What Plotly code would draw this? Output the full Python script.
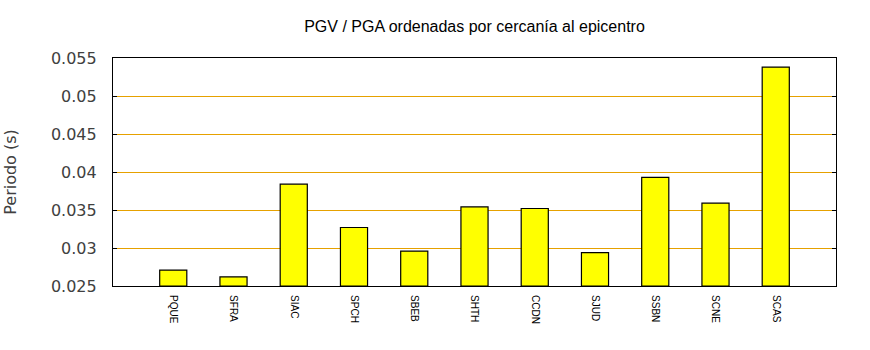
import plotly.graph_objects as go

# Stations ordered by distance to the epicentre
stations = ["PQUE", "SFRA", "SIAC", "SPCH", "SBEB", "SHTH",
            "CCDN", "SJUD", "SSBN", "SCNE", "SCAS"]
# PGV / PGA ratio per station (s)
periods = [0.0271, 0.0262, 0.0384, 0.0327, 0.0296, 0.0354,
           0.0352, 0.0294, 0.0393, 0.0359, 0.0538]

y_ticks = [0.025, 0.03, 0.035, 0.04, 0.045, 0.05, 0.055]
y_tick_text = ["0.025", "0.03", "0.035", "0.04", "0.045", "0.05", "0.055"]

fig = go.Figure()
fig.add_trace(go.Bar(
    x=list(range(len(stations))),
    y=[p - 0.025 for p in periods],
    base=0.025,
    width=0.45,
    marker=dict(color="#FFFF00", line=dict(color="#000000", width=1.2)),
    hoverinfo="skip",
))

fig.update_layout(
    width=870, height=350,
    margin=dict(l=113, r=34, t=58, b=64),
    paper_bgcolor="white", plot_bgcolor="white",
    showlegend=False,
    title=dict(
        text="PGV / PGA ordenadas por cercanía al epicentro",
        x=0.5, xref="paper", xanchor="center",
        y=1 - 26 / 350, yref="container", yanchor="middle",
        font=dict(family="Liberation Sans, Arial", size=16, color="#000000"),
    ),
)

fig.update_xaxes(
    range=[-1, 11],
    automargin=False,
    tickmode="array",
    tickvals=list(range(len(stations))),
    ticktext=stations,
    tickangle=90,
    tickfont=dict(family="Liberation Sans, Arial", size=10, color="#000000"),
    ticks="",
    showgrid=False,
    showline=True, linecolor="#000000", linewidth=1.2, mirror=True,
    zeroline=False,
    ticklabelstandoff=6,
)
fig.update_yaxes(
    range=[0.025, 0.055],
    automargin=False,
    tickmode="array",
    tickvals=y_ticks,
    ticktext=y_tick_text,
    tickfont=dict(family="DejaVu Sans", size=16, color="#404040"),
    ticks="inside", ticklen=4, tickcolor="#000000",
    showgrid=True, gridcolor="#E6A100", gridwidth=1.2,
    showline=True, linecolor="#000000", linewidth=1.2, mirror="ticks",
    zeroline=False,
    ticklabelstandoff=12,
    title=dict(text="Periodo (s)", standoff=30,
               font=dict(family="DejaVu Sans", size=16, color="#404040")),
)

fig.write_html("out.html")
